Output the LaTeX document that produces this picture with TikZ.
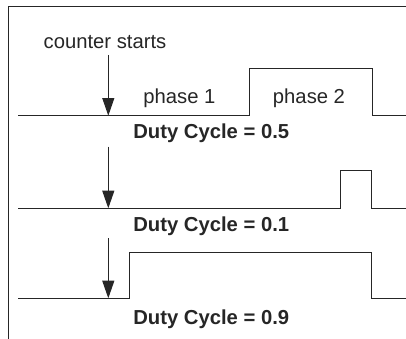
\documentclass[tikz,border=0pt]{standalone}
\usepackage{fontspec}
\setmainfont{Liberation Sans}
\usetikzlibrary{arrows.meta}
\begin{document}
\begin{tikzpicture}[x=0.025cm, y=-0.025cm, >={Triangle[width=8.5pt,length=12.5pt]}, line width=0.7pt, black!85, font=\fontsize{14.4}{17}\selectfont]
		\useasboundingbox (0,0) rectangle (406,339);
		\draw (406,6.5) -| (8,339);
		% duty cycle 0.5
		\node (cs) at (105,42) {counter starts};
		\coordinate (S1) at (108.3,55);
		\coordinate (T1) at (108.3,115.7);
		\draw[->] (S1) -- (T1);
		\draw (18,115.7) -- (249,115.7) |- (372,68) |- (406,115.7);
		\node (P1) at (179.5,98) {phase 1};
		\node (P2) at (309,98) {phase 2};
		\node[font=\fontsize{14.4}{17}\selectfont\bfseries] (D1) at (211.3,133) {Duty Cycle = 0.5};
		% duty cycle 0.1
		\coordinate (S2) at (108.3,146.7);
		\coordinate (T2) at (108.3,208.3);
		\draw[->] (S2) -- (T2);
		\draw (18,208.3) -- (340.7,208.3) |- (371.7,170.5) |- (406,208.3);
		\node[font=\fontsize{14.4}{17}\selectfont\bfseries] (D2) at (211.3,226.7) {Duty Cycle = 0.1};
		% duty cycle 0.9
		\coordinate (S3) at (108.3,238.3);
		\coordinate (T3) at (108.3,298.3);
		\draw[->] (S3) -- (T3);
		\draw (18,298.3) -- (129.3,298.3) |- (371.7,252.3) |- (406,298.3);
		\node[font=\fontsize{14.4}{17}\selectfont\bfseries] (D3) at (211.3,319) {Duty Cycle = 0.9};
	\end{tikzpicture}
\end{document}
